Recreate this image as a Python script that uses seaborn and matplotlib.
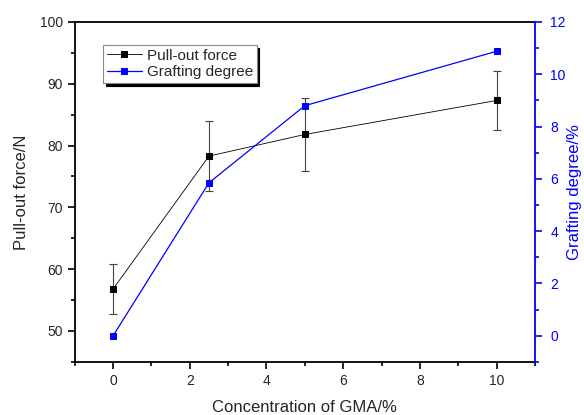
import numpy as np
import pandas as pd
import seaborn as sns
import matplotlib.pyplot as plt
from matplotlib.ticker import MultipleLocator

sns.set_style("ticks")
plt.rcParams['font.family'] = ['Liberation Sans', 'DejaVu Sans']

# data
gma = [0, 2.5, 5, 10]
pull_force = [56.8, 78.3, 81.8, 87.3]
pull_err = [4.0, 5.7, 5.9, 4.85]
graft_degree = [0.0, 5.85, 8.8, 10.88]

df = pd.DataFrame({'gma': gma, 'force': pull_force, 'err': pull_err, 'graft': graft_degree})

fig = plt.figure(figsize=(5.84, 4.15), dpi=100)
ax = fig.add_axes([0.128, 0.128, 0.788, 0.819])
ax2 = ax.twinx()

# pull-out force with error bars
ax.errorbar(df['gma'], df['force'], yerr=df['err'], fmt='none', ecolor='#444444',
            elinewidth=0.8, capsize=3, capthick=0.8, zorder=2)
sns.lineplot(data=df, x='gma', y='force', ax=ax, color='black', lw=0.6,
             marker='s', markersize=5, markeredgecolor='black', label='Pull-out force',
             legend=False, zorder=3)
# grafting degree
sns.lineplot(data=df, x='gma', y='graft', ax=ax2, color='#0000ff', lw=0.9,
             marker='s', markersize=5, markeredgecolor='#0000ff', label='Grafting degree',
             legend=False, zorder=3)

ax.set_xlim(-1, 11)
ax.set_ylim(45, 100)
ax2.set_ylim(-1, 12)
ax.xaxis.set_major_locator(MultipleLocator(2))
ax.xaxis.set_minor_locator(MultipleLocator(1))
ax.yaxis.set_major_locator(MultipleLocator(10))
ax.yaxis.set_minor_locator(MultipleLocator(5))
ax2.yaxis.set_major_locator(MultipleLocator(2))
ax2.yaxis.set_minor_locator(MultipleLocator(1))
ax.set_yticks(range(50, 101, 10))
ax2.set_yticks(range(0, 13, 2))

ax.tick_params(axis='both', which='major', direction='out', length=5, width=1.2, labelsize=10, color='black')
ax.tick_params(axis='both', which='minor', direction='out', length=3, width=1.2, color='black')
ax2.tick_params(axis='y', which='major', direction='out', length=5, width=1.2, labelsize=10,
                colors='#0000ff', pad=6)
ax2.tick_params(axis='y', which='minor', direction='out', length=3, width=1.2, colors='#0000ff')

for s in ['left', 'bottom', 'top']:
    ax.spines[s].set_linewidth(1.3)
    ax.spines[s].set_color('black')
ax.spines['right'].set_visible(False)
for s in ['left', 'bottom', 'top']:
    ax2.spines[s].set_visible(False)
ax2.spines['right'].set_visible(True)
ax2.spines['right'].set_color('#0000ff')
ax2.spines['right'].set_linewidth(1.3)

ax.set_xlabel('Concentration of GMA/%', fontsize=12, labelpad=9)
ax.set_ylabel('Pull-out force/N', fontsize=12, labelpad=8)
ax2.set_ylabel('Grafting degree/%', fontsize=12, color='#0000ff', rotation=90, labelpad=1)

h1, l1 = ax.get_legend_handles_labels()
h2, l2 = ax2.get_legend_handles_labels()
leg = ax.legend(h1 + h2, l1 + l2, loc='upper left', bbox_to_anchor=(0.045, 0.955),
                fontsize=11, frameon=True, fancybox=False, shadow={'color': 'black', 'alpha': 1},
                handlelength=2.3, handletextpad=0.3, borderpad=0.25, labelspacing=0.15,
                edgecolor='#888888', framealpha=1)
leg.get_frame().set_linewidth(0.8)
leg.set_zorder(10)

fig.savefig('out.png', dpi=100)
